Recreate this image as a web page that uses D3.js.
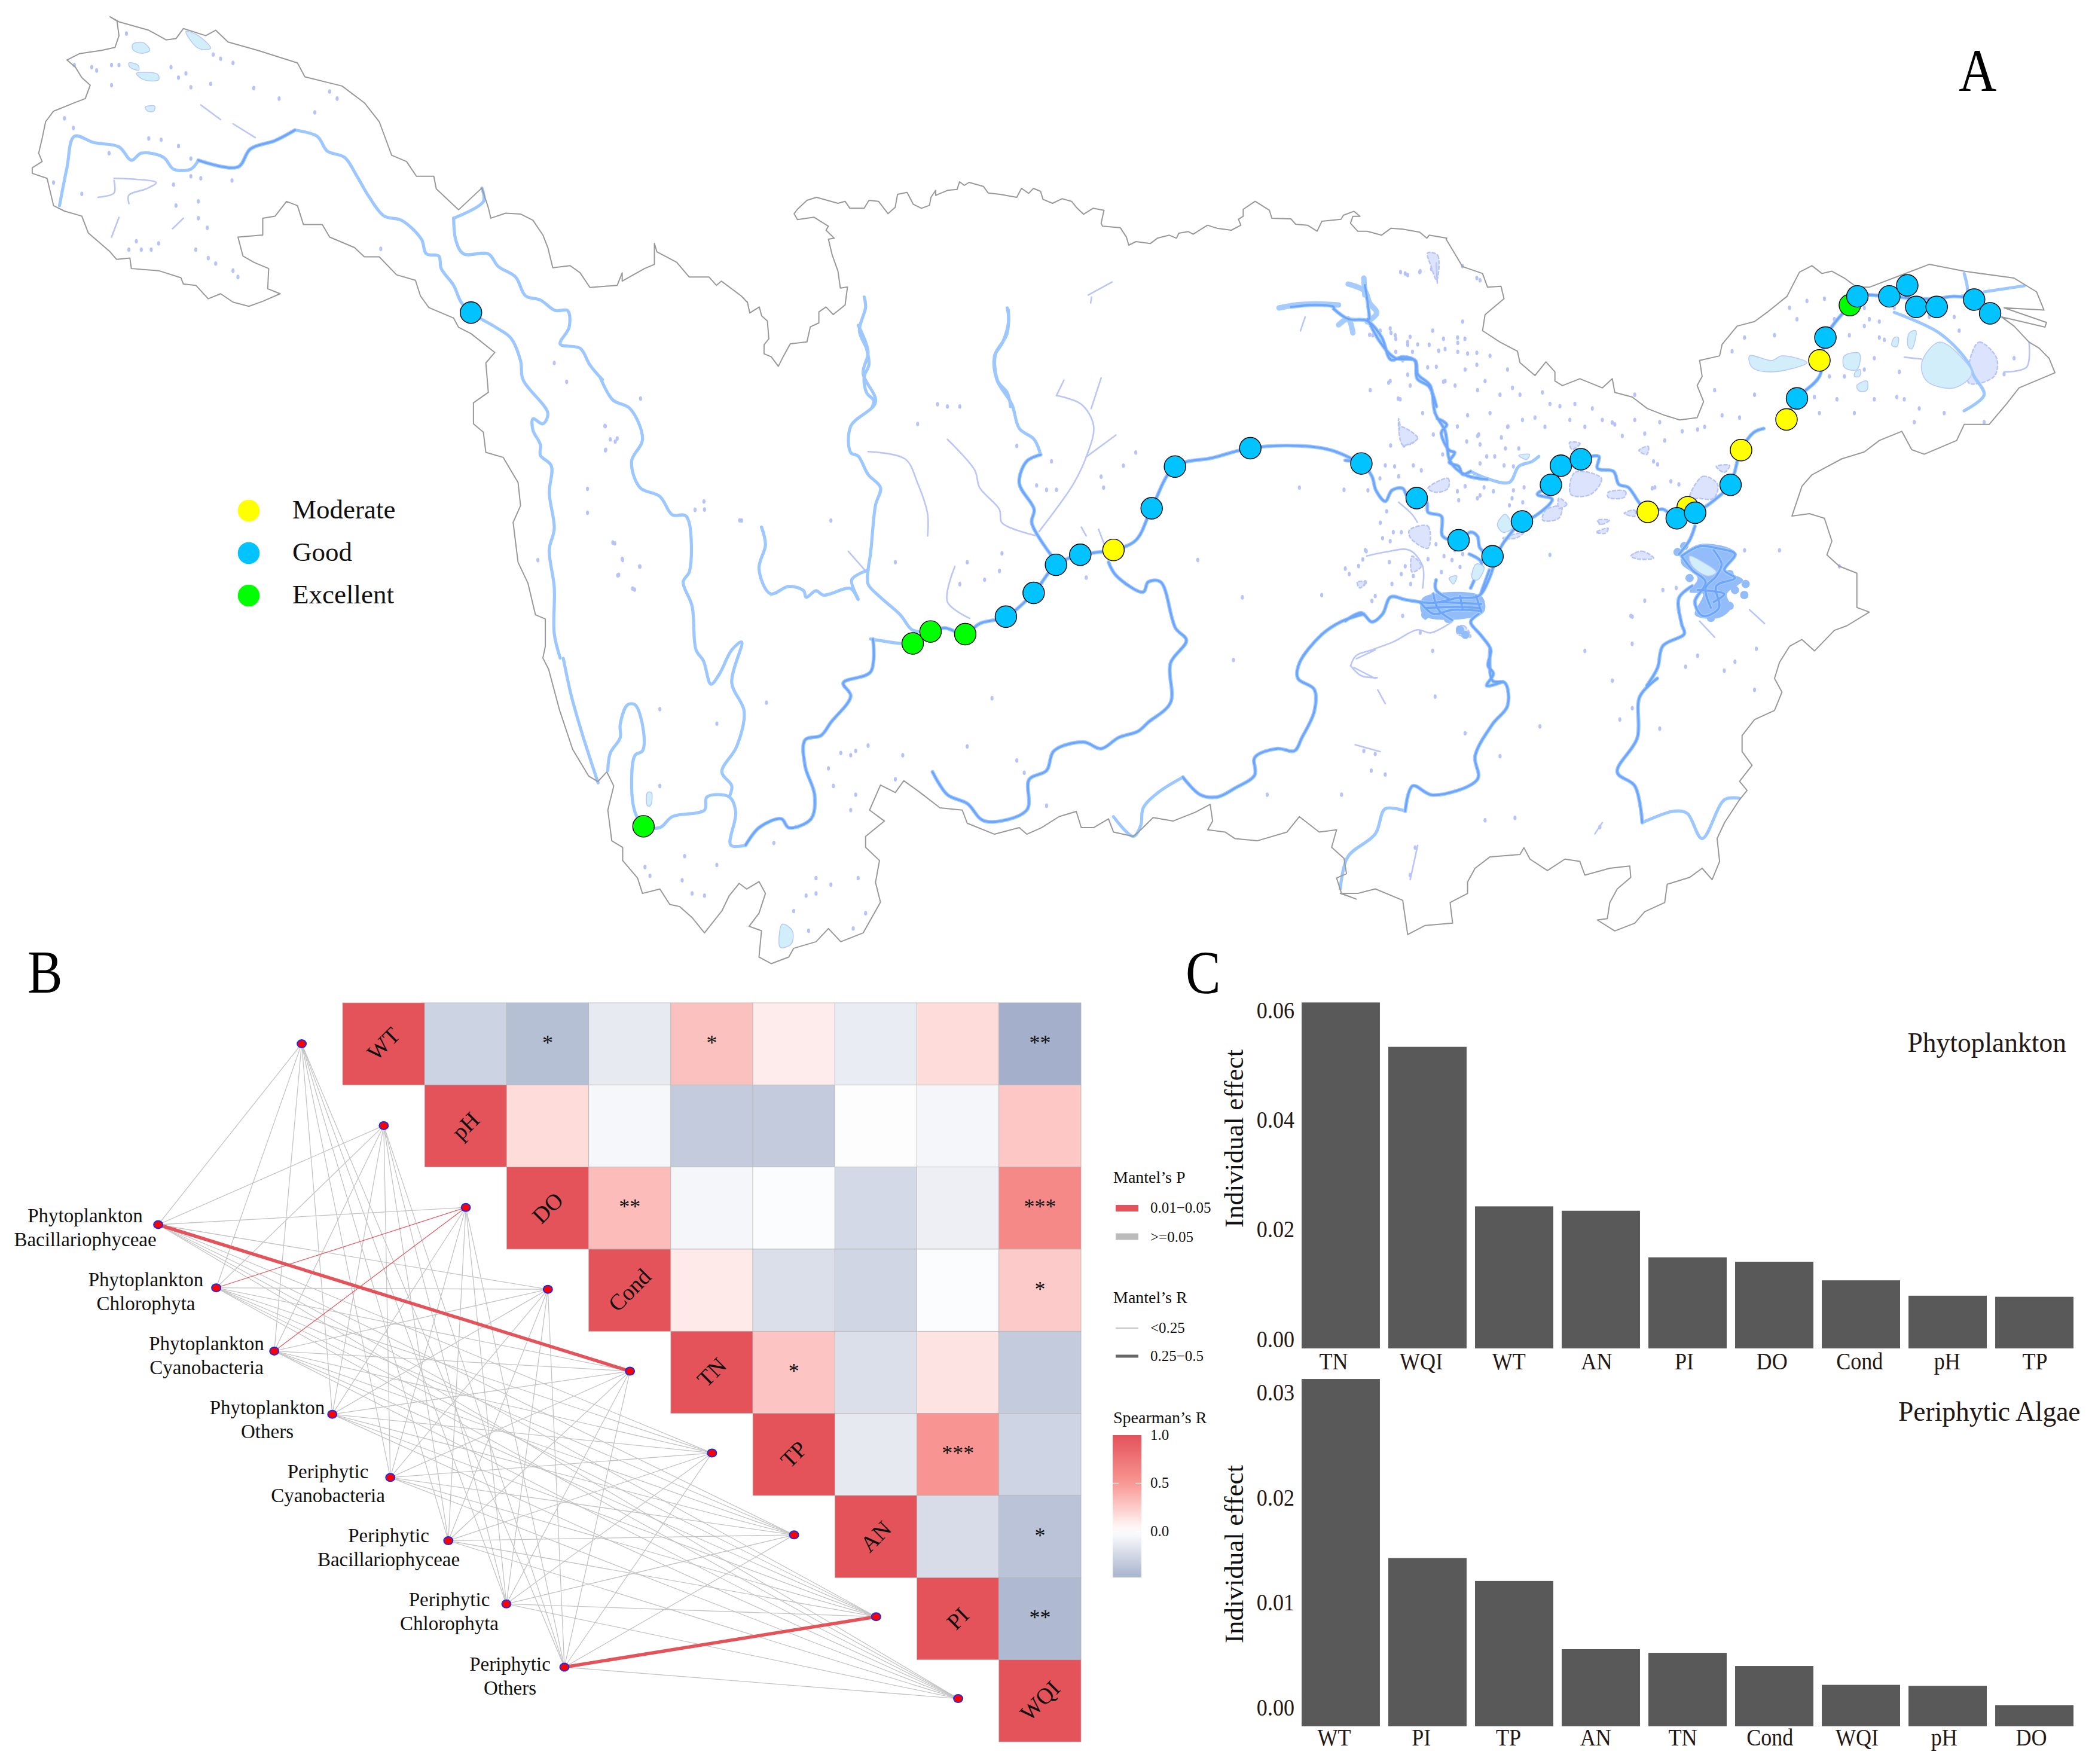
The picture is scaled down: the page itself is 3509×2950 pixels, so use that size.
<!DOCTYPE html>
<html><head><meta charset="utf-8">
<script src="https://cdn.jsdelivr.net/npm/d3@7/dist/d3.min.js"></script>
<style>html,body{margin:0;padding:0;background:#fff}text{font-family:"Liberation Serif","Times New Roman",serif}</style>
</head><body><svg id="c" width="3509" height="2950" xmlns="http://www.w3.org/2000/svg"></svg>
<script>
// ---------- Panel C data ----------
const phytoCats=["TN","WQI","WT","AN","PI","DO","Cond","pH","TP"];
const phytoVals=[.0617,.0536,.0245,.0237,.0152,.0144,.011,.0082,.008];
const periCats=["WT","PI","TP","AN","TN","Cond","WQI","pH","DO"];
const periVals=[.03145,.01438,.0122,.0057,.00535,.0041,.0023,.0022,.00037];
const phytoTicks=[0,.02,.04,.06], periTicks=[0,.01,.02,.03];
// ---------- Panel B data ----------
const envVars=["WT","pH","DO","Cond","TN","TP","AN","PI","WQI"];
const spearman=[
 [1,-.28,-.40,-.13,.30,.09,-.12,.17,-.50],
 [1,.17,-.05,-.33,-.33,-.01,-.06,.27],
 [1,.32,-.06,-.02,-.24,-.10,.60],
 [1,.10,-.20,-.26,-.02,.25],
 [1,.28,-.20,.13,-.33],
 [1,-.14,.52,-.27],
 [1,-.22,-.38],
 [1,-.44],
 [1]];
const stars=[
 ["","","*","","*","","","","**"],
 ["","","","","","","",""],
 ["","**","","","","","***"],
 ["","","","","","*"],
 ["","*","","",""],
 ["","","***",""],
 ["","","*"],
 ["","**"],
 [""]];
const bioGroups=[["Phytoplankton","Bacillariophyceae"],["Phytoplankton","Chlorophyta"],["Phytoplankton","Cyanobacteria"],["Phytoplankton","Others"],["Periphytic","Cyanobacteria"],["Periphytic","Bacillariophyceae"],["Periphytic","Chlorophyta"],["Periphytic","Others"]];
const sigLinks=[[0,4,"thick"],[7,7,"thick"],[1,2,"thin"],[2,2,"thin"]];
const colorTicks=[1,.5,0];
const colorStops=[-.5,0,.5,1], colorRange=["#A4B0CB","#FFFFFF","#F99793","#E4525A"];
// ---------- Panel A data (read in picture-crop units, each with its frame) ----------
const frames={
 M:{ox:0,oy:0,sx:.44685,sy:.44685},
 A:{ox:0,oy:0,sx:1.206,sy:1.425},
 B:{ox:1000,oy:500,sx:1.206,sy:1.363},
 C:{ox:2200,oy:400,sx:1.198,sy:1.307},
 N:{ox:1250,oy:280,sx:1.254,sy:3},
 D:{ox:2250,oy:700,sx:2.24,sy:3}};
const outlineParts=[
["A",[[222,40],[236,50],[240,85],[232,113],[205,120],[160,128],[135,143],[152,160],[165,185],[182,203],[172,235],[150,245],[108,265],[92,290],[85,330],[78,365],[85,385],[65,400],[65,413],[95,425],[108,490],[130,503],[165,515],[178,555],[222,600],[235,618],[262,615],[265,640],[320,645],[365,662],[370,677],[395,680],[420,712],[445,700],[470,720],[502,730],[530,718],[565,700],[540,688],[542,640],[512,625],[490,610],[480,565],[530,560],[530,520],[555,515],[578,480],[600,490],[612,535],[650,535],[665,565],[715,590],[735,612],[765,612],[800,655],[838,668],[848,705],[865,733],[915,758],[925,780],[950,795],[998,840],[980,865],[985,935],[955,960],[955,1010],[975,1030],[980,1078],[1015,1090],[1045,1150],[1050,1205],[1035,1245],[1045,1340],[1065,1390],[1080,1465],[1100,1475],[1100,1540],[1095,1568]]],
["M",[[410,500],[418,530],[428,560],[440,580]]],
["B",[[0,1100],[18,1078],[32,1110],[20,1165],[28,1235],[50,1250],[50,1280],[80,1320],[90,1355],[125,1345],[145,1380],[165,1385],[190,1410],[215,1445],[250,1395],[265,1360],[285,1332],[300,1345],[325,1328],[338,1355],[325,1400],[305,1430],[330,1440],[325,1500],[350,1515],[385,1500],[395,1480],[440,1465],[465,1435],[490,1465],[535,1445],[570,1375],[560,1330],[568,1280],[540,1250],[540,1225],[578,1190],[548,1165],[570,1108],[600,1125],[617,1098],[650,1125],[690,1160],[735,1165],[745,1195],[800,1220],[850,1205],[865,1220],[895,1205],[930,1180],[965,1168],[975,1205],[1000,1205],[1030,1185],[1040,1215],[1080,1225],[1095,1210],[1120,1182],[1160,1190],[1205,1170],[1235,1152],[1240,1190],[1230,1210],[1265,1215],[1285,1230],[1330,1235],[1390,1215],[1415,1180],[1455,1215],[1490,1210],[1480,1250],[1505,1275],[1510,1310],[1490,1320],[1500,1355],[1530,1368]]],
["C",[[50,1430],[85,1430],[120,1420],[175,1445],[185,1520],[220,1500],[275,1495],[270,1450],[305,1430],[305,1405],[320,1375],[350,1350],[410,1345],[418,1330],[430,1355],[465,1380],[500,1355],[530,1360],[540,1390],[590,1375],[630,1370],[632,1395],[605,1420],[590,1450],[585,1485],[565,1488],[600,1512],[640,1495],[660,1470],[700,1450],[705,1410],[750,1395],[775,1375],[795,1400],[810,1360],[805,1310],[820,1275],[850,1225],[865,1205],[850,1185],[875,1150],[855,1120],[855,1085],[880,1050],[920,1030],[935,990],[920,960],[930,925],[950,890],[975,875],[1000,900],[1040,855],[1065,845],[1110,815],[1085,805],[1085,730],[1050,715],[1025,690],[1035,660],[1020,610],[990,600],[955,605],[975,540],[995,515],[1055,480],[1100,465],[1130,440],[1175,420],[1195,460],[1220,470],[1285,440],[1300,405],[1350,405],[1385,360],[1410,325],[1482,292],[1470,260],[1450,238],[1430,225],[1400,190],[1375,170],[1462,192],[1465,182],[1380,150],[1460,155],[1445,115],[1400,85],[1300,70],[1230,55],[1170,80],[1110,105],[1085,105],[1060,85],[1035,70],[1015,75],[995,58],[970,72],[945,125],[905,160],[880,180],[845,190],[815,230],[810,255],[770,265],[775,300],[765,320],[778,355],[765,390],[730,395],[700,385],[665,370],[635,345],[600,335],[595,305],[575,325],[530,305],[495,320],[480,310],[480,290],[462,268],[440,298],[410,270],[405,245],[370,225],[335,200],[340,165],[378,130],[372,103],[345,105],[335,75],[295,60],[262,0]]],
["N",[[1467,355],[1430,340],[1425,355],[1410,325],[1375,310],[1350,305],[1330,340],[1300,320],[1280,320],[1265,280],[1270,245],[1285,245],[1272,220],[1250,240],[1245,260],[1205,270],[1195,320],[1175,290],[1150,285],[1140,258],[1100,255],[1095,215],[1065,170],[1040,210],[1040,245],[1030,260],[1035,290],[1015,315],[985,305],[965,290],[935,335],[925,322],[905,330],[900,355],[885,340],[860,355],[845,382],[815,372],[800,390],[795,350],[782,302],[745,295],[742,280],[748,215],[725,205],[705,235],[690,200],[680,170],[660,157],[640,180],[620,160],[615,120],[600,105],[590,130],[575,105],[565,150],[530,135],[505,128],[495,95],[465,75],[455,90],[445,72],[440,110],[420,115],[395,140],[395,115],[385,150],[382,190],[365,205],[348,185],[335,125],[315,135],[310,200],[295,232],[275,170],[255,165],[245,205],[215,205],[205,170],[190,180],[145,150],[125,165],[105,210],[98,232],[105,262],[140,250],[170,295],[165,315],[182,355],[170,360],[178,440],[190,520],[195,605],[210,600],[205,690],[180,738],[165,700],[150,725],[150,780],[132,800],[125,875],[90,885],[75,950],[65,998],[50,950],[35,935],[35,890],[45,860],[42,770],[30,745],[25,700],[5,730],[0,675]]],
["A",[[1507,720],[1495,705],[1455,670],[1445,680],[1430,660],[1390,660],[1365,625],[1325,600],[1320,580],[1320,630],[1300,640],[1255,670],[1255,650],[1245,680],[1190,685],[1170,650],[1150,633],[1115,638],[1105,590],[1095,560],[1075,525],[1050,510],[1020,508],[990,520],[985,495],[972,448],[925,500],[880,450],[875,420],[840,420],[820,385],[790,370],[765,290],[735,245],[690,205],[615,183],[600,150],[520,120],[460,100],[435,72],[415,85],[370,68],[355,92],[335,95],[300,72],[240,52]]]];
const lightRivers=[
["A",[[120,490],[135,400],[150,325],[190,340],[240,350],[265,382],[285,365],[330,375],[350,403],[385,403],[400,382]]],
["A",[[595,310],[640,325],[660,360],[695,375],[720,420],[745,470],[775,515],[810,525],[850,570],[860,605],[885,610],[890,640],[915,680],[930,720],[950,745],[1000,780],[1030,805],[1050,860],[1055,905],[1105,985],[1095,1010],[1075,998],[1075,1025],[1090,1060],[1090,1085],[1112,1110],[1108,1175],[1118,1260],[1108,1310],[1118,1400],[1118,1510],[1130,1568]]],
["M",[[421,492],[427,520],[435,548],[447,585]]],
["B",[[20,1075],[25,1035],[45,1000],[45,970],[60,925],[75,925],[92,985],[90,1030],[75,1040],[68,1100],[75,1170],[92,1202],[125,1205],[150,1180],[215,1165],[220,1135],[265,1135],[278,1170],[268,1245],[298,1245]]],
["A",[[915,520],[975,480],[972,448]]],
["A",[[915,520],[920,575],[935,605],[985,605],[1005,635],[1040,660],[1060,705],[1090,715],[1120,740],[1145,740],[1148,780],[1130,820],[1170,830],[1190,870],[1215,905]]],
["B",[[5,180],[30,230],[65,250],[90,320],[68,370],[85,430],[125,450],[150,492],[178,495],[185,620],[172,645],[190,700],[198,800],[213,825],[228,878],[245,855],[270,800],[290,782],[270,875],[295,940],[280,1020],[250,1078],[270,1110],[265,1135]]],
["B",[[330,520],[338,560],[325,615],[348,672],[385,655],[415,665],[420,680],[440,665],[455,675],[510,660],[525,685],[512,640],[545,618]]],
["N",[[245,650],[248,700],[235,820],[250,910],[255,990],[245,1050],[250,1130],[265,1170],[262,1200]]],
["B",[[525,60],[545,120],[535,170],[560,235],[510,290],[510,350],[525,358],[545,400],[570,430],[560,470],[550,580],[545,618],[545,650],[570,680],[610,720],[635,755],[671,758]]],
["N",[[545,705],[548,770],[535,880],[520,940],[525,1070],[545,1130],[552,1200]]],
["B",[[828,25],[825,80],[800,130],[805,185],[835,240],[850,295],[880,320],[893,355]]],
["B",[[550,775],[610,785],[635,785]]],
["C",[[180,1250],[140,1245],[120,1300],[65,1350],[50,1420]]],
["B",[[1180,1090],[1130,1125],[1100,1160],[1095,1200],[1080,1225],[1040,1180]]],
["C",[[655,1275],[720,1250],[745,1255],[775,1310],[820,1225],[850,1222]]],
["C",[[1300,75],[1305,120],[1270,125]]],["C",[[1340,115],[1420,102]]],
["C",[[1160,160],[1250,205],[1305,265],[1320,300],[1340,340],[1300,375]]],
["D",[[470,265],[530,300],[615,320],[650,240],[700,215],[725,190]]]];
const darkRivers=[
["B",[[298,1245],[325,1205],[370,1185],[385,1205],[430,1185],[437,1130],[418,1065],[418,1005],[450,995],[470,965],[510,905],[495,875],[550,850],[555,775]]],
["A",[[400,382],[480,398],[505,355],[555,335],[595,310]]],
["B",[[635,785],[671,758],[700,750],[741,764],[770,740],[823,724],[879,670],[924,606],[973,583],[1040,572],[1085,550],[1117,477],[1164,382],[1240,362],[1316,340],[1420,335],[1480,345],[1540,375]]],
["B",[[893,355],[865,370],[850,420],[880,480],[875,510],[915,585]]],
["B",[[1030,600],[1045,630],[1100,668],[1110,645],[1135,645],[1165,750],[1187,778],[1155,830],[1155,920],[1110,965],[1090,985],[1050,1000],[1015,1025],[980,1010],[920,1030],[905,1075],[870,1095],[865,1165],[780,1190],[745,1150],[705,1130],[675,1078]]],
["B",[[1545,718],[1500,735],[1460,765],[1415,830],[1412,865],[1445,890],[1445,940],[1420,1000],[1405,1030],[1370,1025],[1325,1045],[1325,1085],[1285,1115],[1250,1135],[1215,1130],[1180,1090]]],
["D",[[0,210],[60,224],[100,290],[115,360],[150,415],[175,360],[215,350],[235,395],[268,398],[305,420],[310,470],[360,490],[365,590],[423,610],[470,570],[495,590],[505,650],[553,690],[600,610],[660,517],[710,490],[775,405],[720,380],[771,330],[810,236],[883,203],[950,190],[945,250],[1005,265],[1025,330],[1060,345],[1100,420],[1133,468],[1190,455],[1240,500],[1310,473],[1400,390],[1443,330],[1470,210],[1483,158],[1530,70],[1568,50]]],
["C",[[944,394],[965,348],[1010,300],[1022,215],[1071,144],[1086,125],[1150,125],[1204,130],[1245,130],[1280,125],[1320,132],[1352,162]]],
["D",[[345,0],[380,30],[360,70],[390,160],[410,170],[390,220],[425,240],[440,280],[470,265]]],
["C",[[105,175],[130,225],[160,260],[200,265],[205,295],[230,320],[240,380],[260,420],[270,485],[300,515],[345,525]]],
["N",[[1230,710],[1260,760],[1300,770],[1330,850],[1350,965],[1375,950],[1400,970],[1405,1060],[1430,1100],[1445,1200]]],
["N",[[1140,700],[1190,690],[1230,700],[1230,710]]],["N",[[1295,590],[1300,660],[1305,760]]],
["D",[[0,1015],[60,975],[100,1020],[140,980],[170,895],[230,910],[330,925],[420,900],[500,890],[540,800],[553,750]]],
["D",[[280,920],[330,980],[400,960],[510,965]]],["D",[[330,880],[350,960],[400,1010]]],["D",[[350,920],[510,930]]],["D",[[430,890],[440,960]]],["D",[[490,890],[510,970]]],["D",[[340,810],[340,860],[390,905]]],["D",[[300,950],[420,945],[500,950]]],
["D",[[465,680],[510,720],[490,790],[470,850]]],["D",[[540,760],[510,870]]],
["D",[[500,980],[470,1020],[510,1090],[545,1160],[535,1240],[555,1280],[530,1340],[590,1320]]],
["C",[[350,895],[355,965],[380,970],[385,1020],[355,1060],[320,1130],[325,1180],[235,1215],[195,1195],[180,1250]]],
["D",[[1310,540],[1290,610],[1250,680]]],
["D",[[1300,840],[1250,900],[1260,1030],[1270,1080],[1190,1140],[1170,1250],[1130,1340]]],
["C",[[685,960],[650,1000],[645,1090],[605,1165],[640,1195],[655,1275]]],
["D",[[1260,690],[1330,640],[1390,650],[1460,680],[1420,760],[1460,800],[1390,840],[1400,950],[1340,990],[1310,920],[1350,820],[1300,760],[1260,690]]],
["D",[[1380,660],[1410,730],[1390,790],[1350,850],[1370,950]]],["D",[[1320,860],[1420,880],[1380,920]]]];
const wideRivers=[
["N",[[1115,705],[1150,690],[1195,685],[1240,690]]],
["N",[[1260,585],[1295,620],[1305,680],[1320,730],[1300,775]]],
["N",[[1293,555],[1295,640]]],["N",[[1240,790],[1260,760],[1270,830]]]];
const violetLines=[
["A",[[230,425],[315,435],[295,450],[260,465],[260,485]]],["A",[[230,430],[230,460],[198,470]]],["A",[[405,250],[445,285]]],["A",[[470,295],[515,328]]],["A",[[240,518],[225,565]]],["A",[[348,545],[370,520]]],
["B",[[545,348],[620,365],[645,420],[665,490],[665,540]]],["B",[[705,320],[760,390],[770,430],[810,480],[815,510],[885,540]]],["B",[[925,220],[975,240],[1000,290],[985,360],[960,420],[930,470],[890,530]]],["B",[[1015,180],[995,250]]],["B",[[1045,310],[985,360]]],["B",[[720,610],[705,690],[750,728]]],["B",[[940,185],[925,220]]],
["B",[[505,575],[540,620]]],["B",[[1530,820],[1568,800]]],["B",[[1525,840],[1568,865]]],["B",[[1010,525],[1025,570]]],["B",[[975,520],[985,540]]],
["N",[[715,640],[765,575]]],["N",[[720,680],[722,650]]],["N",[[1170,750],[1160,820]]],["N",[[1445,480],[1447,580]]],
["D",[[80,690],[150,670],[240,660],[290,740],[290,850]]],["D",[[20,1240],[40,1190],[100,1160],[180,1120],[270,1060],[320,1075],[400,1020]]],["D",[[20,1240],[60,1290],[120,1300]]],["D",[[200,420],[250,480],[270,520]]],
["C",[[1180,258],[1215,262]]],["C",[[1380,290],[1425,280],[1430,225]]],["C",[[80,1105],[130,1120]]],["C",[[125,985],[140,1015]]],["C",[[205,1325],[190,1400]]],["C",[[560,1300],[575,1275]]],["C",[[770,835],[800,870]]],["C",[[870,810],[900,840]]]];
const lakes=[
["A",[[268,105],[290,102],[302,120],[285,127],[268,118]]],["A",[[260,150],[278,155],[280,167],[262,160]]],["A",[[275,175],[318,177],[320,190],[290,190]]],["A",[[375,75],[400,85],[425,115],[400,115]]],["A",[[293,255],[312,253],[310,265],[298,265]]],
["B",[[100,1125],[108,1125],[106,1155],[100,1155]]],["B",[[372,1425],[392,1440],[390,1470],[368,1478]]],
["C",[[870,255],[915,265],[935,255],[985,270],[915,290],[875,280]]],["C",[[1215,270],[1250,225],[1300,265],[1315,295],[1280,325],[1225,310]]],["C",[[1160,215],[1168,215],[1165,235],[1155,232]]],["C",[[1190,205],[1203,200],[1195,240],[1188,235]]],["C",[[1060,255],[1090,250],[1085,285],[1060,280]]],["C",[[1082,290],[1092,285],[1090,300],[1080,300]]],["C",[[1085,320],[1105,310],[1105,330],[1090,332]]],
["D",[[570,530],[600,480],[625,550],[590,570]]],["D",[[490,730],[520,745],[495,810],[475,800]]],["D",[[390,800],[418,790],[405,830]]],["D",[[1290,690],[1340,720],[1390,770],[1360,790],[1300,740]]],["D",[[650,185],[690,180],[680,205]]]];
const violetBlobs=[
["D",[[310,350],[385,300],[385,350],[340,370]]],["D",[[860,270],[960,300],[920,380],[845,380]]],["D",[[750,460],[810,440],[800,500],[740,510]]],["D",[[800,400],[830,430],[800,450]]],["D",[[985,370],[1050,365],[1045,395],[985,395]]],["D",[[1290,400],[1340,290],[1395,330],[1380,400],[1320,400]]],["D",[[240,560],[310,540],[310,650],[245,600]]],["D",[[205,60],[260,110],[240,130],[205,85]]],["D",[[840,120],[880,125],[850,155]]],["D",[[1100,160],[1135,140],[1130,180]]],["D",[[1070,690],[1110,665],[1155,700],[1100,705]]],["D",[[1045,475],[1085,460],[1085,490]]],["D",[[945,510],[990,510],[960,530]]],["D",[[940,570],[985,550],[975,575]]],["D",[[1390,240],[1440,235],[1420,270]]],["D",[[250,690],[285,740],[250,770]]],["D",[[45,820],[75,820],[55,850]]],["D",[[420,1045],[445,1040],[470,1095],[420,1080]]],["D",[[590,600],[670,570],[640,600]]],["D",[[200,0],[210,50],[230,80],[205,70]]],
["C",[[1310,270],[1330,225],[1365,260],[1360,300],[1310,315]]],["C",[[170,410],[205,435],[175,450]]],["C",[[225,30],[245,35],[243,90],[232,60]]]];
const poyangBlob=["D",[[1260,690],[1330,630],[1460,670],[1425,760],[1490,810],[1430,880],[1445,950],[1400,1000],[1310,985],[1340,880],[1290,870],[1320,800],[1260,730]]];
const jianghanBlob=["D",[[290,900],[510,890],[520,970],[400,1010],[290,985]]];
const blobLobes=["D",[[1500,830],[1460,860],[1495,885],[1440,940],[1370,900],[1400,960],[1330,970],[1370,1000],[1290,800],[1270,640],[1440,780],[1245,670],[430,1060],[450,1085],[385,1005],[300,985]]];
const smallWaters=[
["A",[[255,80],[430,130],[445,140],[470,150],[150,155],[185,160],[225,155],[240,155],[195,168],[345,160],[375,175],[360,185],[225,203],[385,208],[425,200],[512,210],[563,235],[665,218],[680,235],[635,268],[130,282],[148,305],[300,330],[325,333],[360,348],[220,365],[385,378],[405,425],[350,440],[385,420],[468,430],[165,462],[108,435],[355,490],[400,480],[400,520],[418,543],[275,575],[320,580],[260,595],[285,595],[305,595],[395,595],[420,615],[435,628],[470,645],[480,660],[768,593],[1118,865],[1143,910],[1292,950],[1220,1015],[1245,1045],[1222,1072],[1185,1165],[1185,1222],[1240,1295],[1255,1332],[1290,1350],[1248,1370],[1280,1405],[1420,1195],[1402,1215],[1492,1240],[1085,1335]]],
["B",[[685,240],[705,245],[730,245],[645,285],[845,335],[915,370],[885,425],[905,435],[925,435],[1015,405],[1020,430],[1085,350],[1060,380],[470,505],[600,600],[815,580],[810,620],[745,600],[730,650],[780,640],[985,635],[1210,595],[1300,680],[1550,575],[1545,650],[1505,435],[1415,430],[1460,675],[215,480],[290,505],[15,290],[25,320],[35,325],[15,345],[30,555],[50,595],[85,610],[40,630],[70,660],[795,910],[1282,823],[240,968],[125,935],[340,920],[100,1140],[125,1110],[520,1030],[510,1040],[490,1035],[545,1018],[465,1070],[600,1095],[615,1040],[745,1020],[845,1052],[860,1080],[905,1155],[520,1130],[510,1165],[475,1110],[175,1270],[95,1295],[105,1315],[170,1325],[240,1290],[190,1355],[215,1360],[440,1320],[525,1320],[470,1335],[440,1355],[420,1360],[395,1395],[355,1240],[540,1400],[515,1435],[425,1440],[1350,1130],[1500,1130],[1560,1075],[1545,1030]]],
["C",[[130,200],[160,210],[140,240],[175,265],[205,230],[235,200],[260,240],[285,215],[305,250],[295,180],[230,40],[240,60],[180,75],[210,70],[330,90],[350,255],[150,310],[190,320],[280,320],[325,330],[385,285],[395,325],[385,410],[325,430],[440,390],[490,365],[520,360],[555,370],[510,395],[600,405],[640,395],[690,400],[640,340],[800,330],[835,245],[860,215],[920,210],[965,175],[950,150],[1000,345],[1100,190],[1130,180],[1120,260],[1100,285],[1165,345],[1180,350],[1200,400],[1260,380],[1030,300],[1060,300],[300,540],[330,560],[130,620],[150,660],[95,700],[60,720],[100,750],[180,715],[120,780],[210,860],[235,900],[240,1000],[570,620],[470,690],[640,690],[660,790],[635,825],[860,680],[930,680],[1050,715],[635,1025],[540,900],[610,1050],[450,1065],[370,1130],[300,1080],[120,1125],[140,1170],[340,1270],[570,1285],[200,1330],[190,1390],[400,1265],[690,1070],[880,985],[595,965],[1100,150],[1110,175],[1130,215],[1160,150],[1290,200],[1400,260],[1340,240],[1380,295],[1120,350],[1210,370],[1340,400],[1280,170],[1230,170],[1170,290],[1080,380],[150,195],[185,225],[115,210],[225,280],[260,310],[300,285],[340,310],[370,340],[410,340],[455,335],[470,360],[110,330],[170,350],[215,380],[305,385],[350,380],[415,395],[460,410],[540,410],[575,395],[615,430],[660,425],[700,440],[735,420],[780,410],[815,385],[850,390],[880,340],[985,135],[1020,130],[1040,175],[1070,210],[1140,220],[1010,380],[1045,350]]],
["N",[[1370,525],[1385,540],[1410,525],[1435,510],[1530,555],[1500,495],[1350,830],[1360,860],[1390,850],[1460,860],[1490,880],[1505,860],[1430,890],[1385,890],[1395,925],[1360,925],[1490,925],[1530,930],[1450,920],[1445,1000],[1530,990],[1385,1040],[1460,1075],[1345,1080],[1365,1160],[1305,840]]],
["D",[[170,135],[220,135],[150,235],[185,240],[255,235],[285,260],[330,80],[455,115],[505,130],[500,80],[610,40],[585,95],[420,40],[600,150],[650,150],[530,190],[560,190],[595,235],[630,240],[505,225],[520,345],[420,365],[425,410],[495,400],[555,365],[630,360],[670,345],[625,400],[665,420],[615,435],[365,180],[155,465],[140,600],[210,570],[180,570],[75,660],[50,740],[15,780],[165,720],[210,780],[175,830],[310,705],[400,710],[430,745],[360,770],[1220,315],[1150,350],[1190,860],[1240,850],[1075,1130],[1320,1190],[1275,1245],[1420,1265],[1460,1220],[1540,1155],[1000,20],[1320,55],[1170,230],[1155,215],[130,300],[85,360],[200,290],[340,630],[370,690],[410,660],[440,680],[245,830],[255,790],[100,915],[215,990],[300,1000],[1070,990],[1250,330],[1160,345]]]];
const sitesData=[
["Moderate","D",[[1283,445]]],
["Good","A",[[950,745]]],
["Excellent","B",[[92,1202],[635,785],[671,758],[741,764]]],
["Good","B",[[823,724],[879,670],[924,606],[973,583],[1117,477],[1164,382],[1316,340],[1540,375]]],
["Moderate","B",[[1040,572]]],
["Excellent","C",[[1071,144]]],
["Good","C",[[203,566],[287,658],[355,693],[414,617],[472,537],[492,495],[532,481],[724,610],[761,598],[832,537],[965,348],[1022,215],[1086,125],[1150,125],[1186,101],[1204,148],[1245,148],[1320,132],[1352,162]]],
["Moderate","C",[[666,596],[853,461],[944,394],[1010,265]]]];
const qualityLevels=["Moderate","Good","Excellent"];
const qualityColors=["#FFFF00","#00C3FF","#00FF00"];

// ---------- Helpers ----------
const svg=d3.select("#c");
svg.append("rect").attr("width",3509).attr("height",2950).attr("fill","#fff");
const scales={};
Object.entries(frames).forEach(([k,f])=>{scales[k]={
 x:d3.scaleLinear().domain([0,1]).range([f.ox,f.ox+1/f.sx]),
 y:d3.scaleLinear().domain([0,1]).range([f.oy,f.oy+1/f.sy])};});
const proj=(k,a)=>a.map(p=>[scales[k].x(p[0]),scales[k].y(p[1])]);
const lineCurve=d3.line().curve(d3.curveCatmullRom.alpha(.5));
const linePoly=d3.line();
const closed=d3.line().curve(d3.curveCatmullRomClosed);
const qColor=d3.scaleOrdinal(qualityLevels,qualityColors);
function squeeze(sel,k){sel.each(function(){const l=this.getComputedTextLength();d3.select(this).attr("textLength",l*k).attr("lengthAdjust","spacingAndGlyphs");});}

// ---------- Panel A ----------
const A=svg.append("g");
const outlinePts=outlineParts.flatMap(([k,a])=>proj(k,a));
function drawLines(g,data,color,w){g.selectAll(null).data(data).join("path").attr("d",d=>lineCurve(proj(d[0],d[1]))).attr("fill","none").attr("stroke",color).attr("stroke-width",w).attr("stroke-linejoin","round").attr("stroke-linecap","round");}
const wg=A.append("g");
wg.selectAll(null).data(smallWaters.flatMap(([k,a])=>proj(k,a))).join("ellipse").attr("cx",d=>d[0]).attr("cy",d=>d[1]).attr("rx",2.6).attr("ry",3.8).attr("fill","#B7C4F7");
wg.selectAll(null).data(violetBlobs).join("path").attr("d",d=>closed(proj(d[0],d[1]))).attr("fill","#DCE3FC").attr("stroke","#B7C4F7").attr("stroke-width",2.4).attr("stroke-dasharray","7 2");
drawLines(wg,violetLines,"#BAC6F8",2.6);
wg.selectAll(null).data([poyangBlob,jianghanBlob]).join("path").attr("d",d=>closed(proj(d[0],d[1]))).attr("fill","#93BCFB");
wg.selectAll(null).data(proj(...blobLobes)).join("circle").attr("cx",d=>d[0]).attr("cy",d=>d[1]).attr("r",7).attr("fill","#93BCFB");
drawLines(wg,wideRivers,"#A5CBFF",9);
drawLines(wg,lightRivers,"#9CC7FF",5.2);
drawLines(wg,darkRivers,"#A3CBFF",6.4);
drawLines(wg,darkRivers,"#6DA5FA",3.4);
wg.selectAll(null).data(lakes).join("path").attr("d",d=>closed(proj(d[0],d[1]))).attr("fill","#D3EEFB").attr("stroke","#B7C8F7").attr("stroke-width",1.5);
A.append("path").attr("d",linePoly(outlinePts)+"Z").attr("fill","none").attr("stroke","#999").attr("stroke-width",2).attr("stroke-linejoin","round");
sitesData.forEach(([lvl,k,a])=>{
 A.selectAll(null).data(proj(k,a)).join("circle").attr("cx",d=>d[0]).attr("cy",d=>d[1]).attr("r",18).attr("fill",qColor(lvl)).attr("stroke","#000").attr("stroke-width",1.4);
});
const legY=d3.scalePoint(qualityLevels,[854,996]);
qualityLevels.forEach(l=>{
 A.append("circle").attr("cx",416).attr("cy",legY(l)).attr("r",18.3).attr("fill",qColor(l));
 A.append("text").attr("x",489).attr("y",legY(l)+13).attr("font-size",45).attr("fill","#111").text(l);
});

// ---------- Panel letters ----------
[["A",3276,152],["B",46,1660],["C",1983,1661]].forEach(([t,x,y])=>{
 const e=svg.append("text").attr("x",x).attr("y",y).attr("font-size",102).attr("fill","#000").text(t);squeeze(e,.86);
});

// ---------- Panel B heat map ----------
const B=svg.append("g");
const hx=d3.scaleBand(envVars,[573,1808]), hy=d3.scaleBand(envVars,[1677,2913]);
const rColor=d3.scaleLinear().domain(colorStops).range(colorRange).clamp(true);
spearman.forEach((row,i)=>row.forEach((v,k)=>{
 const j=i+k,cx=hx(envVars[j])+hx.bandwidth()/2,cy=hy(envVars[i])+hy.bandwidth()/2;
 B.append("rect").attr("x",hx(envVars[j])).attr("y",hy(envVars[i])).attr("width",hx.bandwidth()).attr("height",hy.bandwidth()).attr("fill",rColor(v)).attr("stroke","#B5B5B5").attr("stroke-width",.8);
 if(k===0) B.append("text").attr("transform",`translate(${cx},${cy}) rotate(-45)`).attr("text-anchor","middle").attr("dy",".33em").attr("font-size",38).attr("fill","#111").text(envVars[i]);
 else if(stars[i][k]) B.append("text").attr("x",cx).attr("y",cy+10).attr("text-anchor","middle").attr("font-size",36).attr("fill","#111").text(stars[i][k]);
}));
// network nodes
const envNodeX=d3.scaleLinear().domain([0,8]).range([504.6,1602.6]), envNodeY=d3.scaleLinear().domain([0,8]).range([1745.5,2840.6]);
const bioNodeX=d3.scaleLinear().domain([0,7]).range([264.6,944]), bioNodeY=d3.scaleLinear().domain([0,7]).range([2048,2788]);
const net=B.append("g");
const linkKind=(i,j)=>{const s=sigLinks.find(l=>l[0]===i&&l[1]===j);return s?s[2]:"none";};
const links=d3.cross(d3.range(8),d3.range(9)).map(([i,j])=>({i,j,kind:linkKind(i,j)})).sort((a,b)=>(a.kind!=="none")-(b.kind!=="none"));
net.selectAll("line").data(links).join("line")
 .attr("x1",d=>bioNodeX(d.i)).attr("y1",d=>bioNodeY(d.i)).attr("x2",d=>envNodeX(d.j)).attr("y2",d=>envNodeY(d.j))
 .attr("stroke",d=>d.kind==="none"?"#C4C4C4":"#E4525A").attr("stroke-width",d=>d.kind==="thick"?5.5:(d.kind==="thin"?1.2:1.3));
const nodeStyle=s=>s.attr("rx",7.5).attr("ry",6.5).attr("fill","#FF0000").attr("stroke","#1F2BE8").attr("stroke-width",2);
envVars.forEach((_,j)=>net.append("ellipse").attr("cx",envNodeX(j)).attr("cy",envNodeY(j)).call(nodeStyle));
const bioLabelX=d3.scaleLinear().domain([0,7]).range([142.5,853]), bioLabelY=d3.scaleLinear().domain([0,7]).range([2033,2783]);
bioGroups.forEach((g,i)=>{
 net.append("ellipse").attr("cx",bioNodeX(i)).attr("cy",bioNodeY(i)).call(nodeStyle);
 g.forEach((t,l)=>net.append("text").attr("x",bioLabelX(i)).attr("y",bioLabelY(i)+l*40).attr("dy",".32em").attr("text-anchor","middle").attr("font-size",33).attr("fill","#111").text(t));
});
// legends
const L=svg.append("g").attr("fill","#111");
const lt=(t,x,y,s)=>L.append("text").attr("x",x).attr("y",y).attr("font-size",s).text(t);
lt("Mantel’s P",1862,1978,28);
L.append("line").attr("x1",1866).attr("x2",1904).attr("y1",2020.5).attr("y2",2020.5).attr("stroke","#E4525A").attr("stroke-width",11);
L.append("line").attr("x1",1866).attr("x2",1904).attr("y1",2068).attr("y2",2068).attr("stroke","#BBB").attr("stroke-width",11);
lt("0.01−0.05",1924,2028,25);lt(">=0.05",1924,2077,25);
lt("Mantel’s R",1862,2179,28);
L.append("line").attr("x1",1866).attr("x2",1904).attr("y1",2221).attr("y2",2221).attr("stroke","#8C8C8C").attr("stroke-width",1);
L.append("line").attr("x1",1866).attr("x2",1904).attr("y1",2268).attr("y2",2268).attr("stroke","#666").attr("stroke-width",5);
lt("<0.25",1924,2229,25);lt("0.25−0.5",1924,2276,25);
lt("Spearman’s R",1862,2380,28);
const cbY=d3.scaleLinear().domain([1,-.48]).range([2400,2638]);
const grad=svg.append("defs").append("linearGradient").attr("id","cb").attr("x1",0).attr("x2",0).attr("y1",0).attr("y2",1);
d3.range(0,21).forEach(i=>{const v=1-1.48*i/20;grad.append("stop").attr("offset",i/20).attr("stop-color",rColor(v));});
L.append("rect").attr("x",1861).attr("width",48).attr("y",cbY(1)).attr("height",cbY(-.48)-cbY(1)).attr("fill","url(#cb)");
colorTicks.forEach(v=>{
 lt(d3.format(".1f")(v),1924,cbY(v)+8,25);
 if(v<1)[[1861,1871],[1899,1909]].forEach(([a,b])=>L.append("line").attr("x1",a).attr("x2",b).attr("y1",cbY(v)).attr("y2",cbY(v)).attr("stroke","#fff").attr("stroke-width",1));
});

// ---------- Panel C ----------
function barPanel(cfg){
 const g=svg.append("g");
 const x=d3.scaleBand(cfg.cats,[2177,3468]).paddingInner(.097);
 const y=d3.scaleLinear().domain([0,cfg.tickMax]).range([cfg.y0,cfg.yMax]);
 g.selectAll("rect").data(cfg.vals).join("rect").attr("x",(d,i)=>x(cfg.cats[i])).attr("width",x.bandwidth())
  .attr("y",d=>y(d)).attr("height",d=>cfg.floor-y(d)).attr("fill","#595959");
 const ya=g.append("g").attr("transform",`translate(2165,${-3})`).call(d3.axisLeft(y).tickValues(cfg.ticks).tickFormat(d3.format(".2f")).tickSize(0).tickPadding(0));
 ya.select(".domain").remove();
 ya.selectAll("text").attr("font-size",41).attr("font-family","Liberation Serif").attr("fill","#231815").call(squeeze,.88);
 const xl=d3.scalePoint(cfg.cats,cfg.labelX);
 const xa=g.append("g").attr("transform",`translate(0,${cfg.labelY})`).call(d3.axisBottom(xl).tickSize(0).tickPadding(0));
 xa.select(".domain").remove();
 xa.selectAll("text").attr("font-size",41).attr("font-family","Liberation Serif").attr("fill","#231815").call(squeeze,.88);
 g.append("text").attr("transform",`translate(2065,${cfg.titleY}) rotate(-90)`).attr("text-anchor","middle").attr("dy",".3em").attr("font-size",45).attr("fill","#111").text("Individual effect");
 g.append("text").attr("x",cfg.nameX).attr("y",cfg.nameY).attr("dy",".3em").attr("font-size",45.5).attr("fill","#231815").text(cfg.name);
}
barPanel({cats:phytoCats,vals:phytoVals,ticks:phytoTicks,tickMax:.06,y0:2242,yMax:1692,floor:2255,labelX:[2230,3403],labelY:2261,titleY:1904,name:"Phytoplankton",nameX:3190.5,nameY:1745});
barPanel({cats:periCats,vals:periVals,ticks:periTicks,tickMax:.03,y0:2858,yMax:2331.5,floor:2887,labelX:[2231,3397],labelY:2890,titleY:2599,name:"Periphytic Algae",nameX:3175,nameY:2362});
</script></body></html>
